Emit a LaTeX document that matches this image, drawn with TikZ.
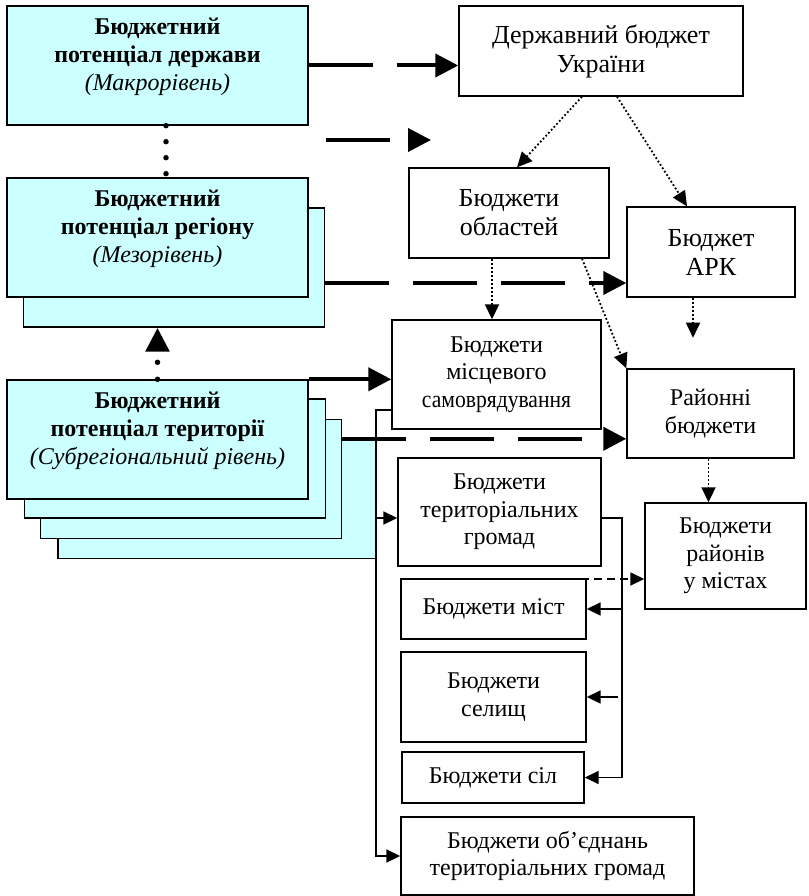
\documentclass[tikz,border=0pt]{standalone}
\usepackage{fontspec}
\setmainfont{Liberation Serif}
\usetikzlibrary{arrows.meta}
\definecolor{lcyan}{RGB}{204,255,255}
\newcommand\bigfs{\fontsize{26}{29}\selectfont}
\newcommand\regfs{\fontsize{24}{27.5}\selectfont}
\tikzset{
  box/.style={draw,line width=1.4pt,inner sep=0pt,align=center,fill=white},
  cbox/.style={box,fill=lcyan,minimum width=301pt,minimum height=119pt,font=\fontsize{24}{28}\selectfont},
  fat/.style={line width=4pt,-{Triangle[length=23pt,width=23pt]}},
  fatdash/.style={fat,dash pattern=on 64pt off 24pt},
  dots/.style={line width=1.8pt,dash pattern=on 1.8pt off 2.2pt,-{Triangle[length=15pt,width=14pt]}},
  thinarr/.style={line width=1.7pt,-{Triangle[length=14pt,width=13pt]}},
  bigdots/.style={line width=5.5pt,line cap=round,dash pattern=on 0pt off 16pt}
}
\begin{document}
\begin{tikzpicture}[x=1pt,y=-1pt]
\useasboundingbox (0,0) rectangle (808,896);
% levels of the budget potential (stacked sheets)
\node[cbox,minimum width=318pt] (ter4) at (217,499) {};
\node[cbox] (ter3) at (191,479) {};
\node[cbox] (ter2) at (175,458.5) {};
\node[cbox] (ter) at (157.5,439.5) {\textbf{Бюджетний}\\\textbf{потенціал території}\\\textit{(Субрегіональний рівень)}\\[-6pt]};
\node[cbox] (reg2) at (174,267.5) {};
\node[cbox] (reg) at (157.5,237.5) {\textbf{Бюджетний}\\\textbf{потенціал регіону}\\\textit{(Мезорівень)}\\[-6pt]};
\node[cbox] (top) at (157.5,65.5) {\textbf{Бюджетний}\\\textbf{потенціал держави}\\\textit{(Макрорівень)}\\[-6pt]};
% budgets
\foreach \nm/\cx/\cy/\w/\h/\txt in {ukr/601/51/284/90/{Державний бюджет\\України},
  obl/509/213/200/90/{Бюджети\\областей}, ark/711/252/168/90/{Бюджет\\АРК}}
  \node[box,font=\bigfs,minimum width=\w pt,minimum height=\h pt] (\nm) at (\cx,\cy) {\txt};
\foreach \nm/\cx/\cy/\w/\h/\txt in {msv/496.5/374.5/209/109/{Бюджети\\місцевого\\\scalebox{0.9}[1]{самоврядування}},
  rai/710.5/413.5/167/89/{Районні\\бюджети}, tg/499.5/512/203/108/{Бюджети\\територіальних\\громад},
  rm/725.5/556/161/106/{Бюджети\\районів\\у містах}, mist/493.5/609/185/60/{Бюджети міст},
  sel/493.5/697/185/90/{Бюджети\\селищ}, sil/493/777.5/182/51/{Бюджети сіл},
  obj/547.5/856/293/78/{Бюджети об’єднань\\територіальних громад}}
  \node[box,font=\regfs,minimum width=\w pt,minimum height=\h pt] (\nm) at (\cx,\cy) {\txt};
% links between the levels
\draw[bigdots] ([xshift=8.5pt]top.south) -- ([xshift=8.5pt]reg.north);
\draw[bigdots,dash pattern=on 0pt off 17pt,-{Triangle[length=24pt,width=23pt]}] (ter.north) -- (ter.north |- reg2.south);
% thick arrows
\draw[fatdash] (top.east) -- (top.east -| ukr.west);
\coordinate (f1) at (326,140);
\coordinate (f2) at (431,140);
\draw[fatdash] (f1) -- (f2);
\draw[fatdash] ([yshift=-15.5pt]reg2.east) -- ([yshift=-15.5pt]reg2.east -| ark.west);
\draw[fat] (ter.north east) -- (ter.north east -| msv.west);
\draw[fatdash] (ter3.east |- ter4.north) -- (ter4.north -| rai.west);
% dotted arrows
\draw[dots] ([xshift=-19pt]ukr.south) -- ([xshift=8pt]obl.north);
\draw[dots] ([xshift=16pt]ukr.south) -- ([xshift=-24pt]ark.north);
\draw[dots] ([xshift=-17pt]obl.south) -- ([xshift=-17pt]obl.south |- msv.north);
\draw[dots] ([xshift=73pt]obl.south) -- (rai.north west);
\draw[dots] ([xshift=-18pt]ark.south) -- ++(0,40);
\draw[dots] ([xshift=-2pt]rai.south) -- ([xshift=-2pt]rai.south |- rm.north);
% thin lines
\coordinate (lft) at (376,410);
\coordinate (rgt) at (622,518);
\coordinate (ds) at (568,579);
\draw[thinarr] (msv.west |- lft) -- (lft) |- (obj.west);
\draw[thinarr] ([yshift=-6pt]tg.west -| lft) -- ([yshift=-6pt]tg.west);
\draw[thinarr] ([yshift=-6pt]tg.east) -| (rgt |- sil.east) -- (sil.east);
\draw[thinarr] (rgt |- mist.east) -- (mist.east);
\draw[thinarr] ([xshift=-4pt]rgt |- sel.east) -- (sel.east);
\draw[thinarr,dash pattern=on 8pt off 5pt] (ds) -- (ds -| rm.west);
\end{tikzpicture}
\end{document}
